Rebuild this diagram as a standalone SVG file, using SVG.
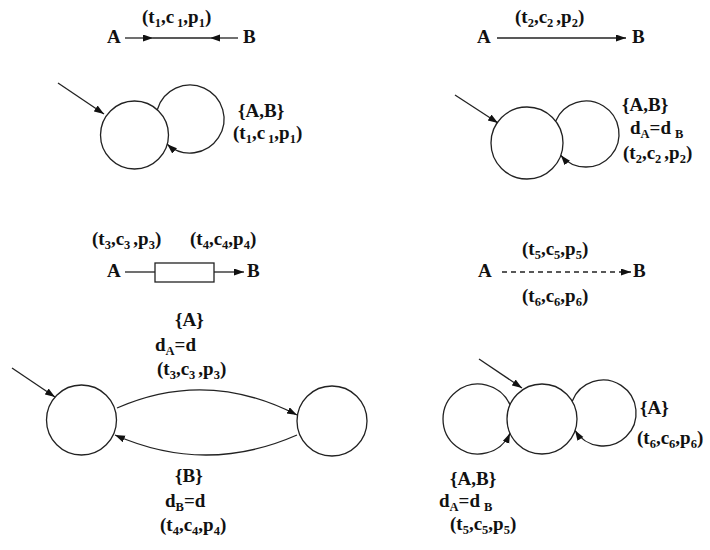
<svg xmlns="http://www.w3.org/2000/svg" width="710" height="550" viewBox="0 0 710 550">
<style>
text{font-family:'Liberation Serif','DejaVu Serif',serif;font-weight:700;font-size:19px;fill:#111}
.s{font-size:12.5px}
.st{fill:#fff;stroke:#222;stroke-width:1.3}
.c{fill:none;stroke:#222;stroke-width:1.3}
.d{stroke-dasharray:5,4}
.box{fill:#fff;stroke:#222;stroke-width:1.3}
</style>
<defs>
<marker id="ah" markerUnits="userSpaceOnUse" markerWidth="11" markerHeight="8" refX="10" refY="3.5" orient="auto">
<path d="M0,0 L10,3.5 L0,7 z" fill="#111"/>
</marker>
</defs>
<rect width="710" height="550" fill="#fff"/>

<g id="p1A"><text x="107" y="43">A</text></g>
<g id="p1B"><text x="243" y="43">B</text></g>
<g id="p1L"><text x="142" y="23">(t<tspan class="s" dy="4">1</tspan><tspan dy="-4">,c</tspan><tspan class="s" dy="4" dx="3">1</tspan><tspan dy="-4">,p</tspan><tspan class="s" dy="4">1</tspan><tspan dy="-4">)</tspan></text></g>

<g id="p2A"><text x="477" y="43">A</text></g>
<g id="p2B"><text x="632" y="43">B</text></g>
<g id="p2L"><text x="515" y="23">(t<tspan class="s" dy="4">2</tspan><tspan dy="-4">,c</tspan><tspan class="s" dy="4">2</tspan><tspan dy="-4" dx="3">,p</tspan><tspan class="s" dy="4">2</tspan><tspan dy="-4">)</tspan></text></g>

<g id="p3S"><circle class="st" cx="134.5" cy="135" r="34"/></g>
<g id="p3L"><text x="238" y="117">{A,B}</text><text x="233" y="139">(t<tspan class="s" dy="4">1</tspan><tspan dy="-4">,c</tspan><tspan class="s" dy="4" dx="3">1</tspan><tspan dy="-4">,p</tspan><tspan class="s" dy="4">1</tspan><tspan dy="-4">)</tspan></text></g>

<g id="p4S"><circle class="st" cx="527" cy="143" r="36"/></g>
<g id="p4L"><text x="622" y="111">{A,B}</text><text x="630" y="134">d<tspan class="s" dy="4">A</tspan><tspan dy="-4">=d</tspan><tspan class="s" dy="4" dx="4">B</tspan></text><text x="623" y="159">(t<tspan class="s" dy="4">2</tspan><tspan dy="-4">,c</tspan><tspan class="s" dy="4">2</tspan><tspan dy="-4" dx="3">,p</tspan><tspan class="s" dy="4">2</tspan><tspan dy="-4">)</tspan></text></g>

<g id="p5A"><text x="107" y="277">A</text></g>
<g id="p5B"><text x="247" y="277">B</text></g>
<g id="p5Box"><rect class="box" x="155" y="263" width="59" height="19"/></g>
<g id="p5L"><text x="92" y="245">(t<tspan class="s" dy="4">3</tspan><tspan dy="-4">,c</tspan><tspan class="s" dy="4">3</tspan><tspan dy="-4" dx="3">,p</tspan><tspan class="s" dy="4">3</tspan><tspan dy="-4">)</tspan></text><text x="190" y="245">(t<tspan class="s" dy="4">4</tspan><tspan dy="-4">,c</tspan><tspan class="s" dy="4">4</tspan><tspan dy="-4">,p</tspan><tspan class="s" dy="4">4</tspan><tspan dy="-4">)</tspan></text></g>

<g id="p6A"><text x="478" y="277">A</text></g>
<g id="p6B"><text x="633" y="277">B</text></g>
<g id="p6L"><text x="522" y="255">(t<tspan class="s" dy="4">5</tspan><tspan dy="-4">,c</tspan><tspan class="s" dy="4">5</tspan><tspan dy="-4">,p</tspan><tspan class="s" dy="4">5</tspan><tspan dy="-4">)</tspan></text><text x="522" y="302">(t<tspan class="s" dy="4">6</tspan><tspan dy="-4">,c</tspan><tspan class="s" dy="4">6</tspan><tspan dy="-4">,p</tspan><tspan class="s" dy="4">6</tspan><tspan dy="-4">)</tspan></text></g>

<g id="p7S1"><circle class="st" cx="81.5" cy="420" r="35"/></g>
<g id="p7S2"><circle class="st" cx="332" cy="421" r="35"/></g>
<g id="p7L1"><text x="175" y="326">{A}</text><text x="155" y="351">d<tspan class="s" dy="4">A</tspan><tspan dy="-4">=d</tspan></text><text x="157" y="375">(t<tspan class="s" dy="4">3</tspan><tspan dy="-4">,c</tspan><tspan class="s" dy="4">3</tspan><tspan dy="-4" dx="3">,p</tspan><tspan class="s" dy="4">3</tspan><tspan dy="-4">)</tspan></text></g>
<g id="p7L2"><text x="175" y="482">{B}</text><text x="165" y="507">d<tspan class="s" dy="4">B</tspan><tspan dy="-4">=d</tspan></text><text x="160" y="531">(t<tspan class="s" dy="4">4</tspan><tspan dy="-4">,c</tspan><tspan class="s" dy="4">4</tspan><tspan dy="-4">,p</tspan><tspan class="s" dy="4">4</tspan><tspan dy="-4">)</tspan></text></g>

<g id="p8S"><circle class="st" cx="542" cy="419" r="35"/></g>
<g id="p8L1"><text x="640" y="414">{A}</text><text x="637" y="444">(t<tspan class="s" dy="4">6</tspan><tspan dy="-4">,c</tspan><tspan class="s" dy="4">6</tspan><tspan dy="-4">,p</tspan><tspan class="s" dy="4">6</tspan><tspan dy="-4">)</tspan></text></g>
<g id="p8L2"><text x="450" y="485">{A,B}</text><text x="439" y="507">d<tspan class="s" dy="4">A</tspan><tspan dy="-4">=d</tspan><tspan class="s" dy="4" dx="4">B</tspan></text><text x="450" y="530">(t<tspan class="s" dy="4">5</tspan><tspan dy="-4">,c</tspan><tspan class="s" dy="4">5</tspan><tspan dy="-4">,p</tspan><tspan class="s" dy="4">5</tspan><tspan dy="-4">)</tspan></text></g>

<g id="connectors">
<path class="c" d="M125,38 L153,38" marker-end="url(#ah)"/>
<path class="c" d="M153,38 L210,38"/>
<path class="c" d="M238,38 L210,38" marker-end="url(#ah)"/>
<path class="c" d="M497,38 L626,38" marker-end="url(#ah)"/>
<path class="c" d="M58,83 L104,114" marker-end="url(#ah)"/>
<path class="c" d="M157.3,109.8 A34,34 0 1 1 167.2,144.2" marker-end="url(#ah)"/>
<path class="c" d="M455,95 L498,123" marker-end="url(#ah)"/>
<path class="c" d="M555.6,121.2 A33,33 0 1 1 560.8,155.3" marker-end="url(#ah)"/>
<path class="c" d="M125,272 L155,272"/>
<path class="c" d="M214,272 L244,272" marker-end="url(#ah)"/>
<path class="c d" d="M502,272 L631,272" marker-end="url(#ah)"/>
<path class="c" d="M12,368 L55,397" marker-end="url(#ah)"/>
<path class="c" d="M117,408 Q207,368.5 297,415" marker-end="url(#ah)"/>
<path class="c" d="M297,435 Q206,475 115,435" marker-end="url(#ah)"/>
<path class="c" d="M479,359 L522,388" marker-end="url(#ah)"/>
<path class="c" d="M510,404.8 A35,35 0 1 0 510,433.2" marker-end="url(#ah)"/>
<path class="c" d="M572.2,401.3 A33,33 0 1 1 575.1,430.5" marker-end="url(#ah)"/>
</g>
</svg>
